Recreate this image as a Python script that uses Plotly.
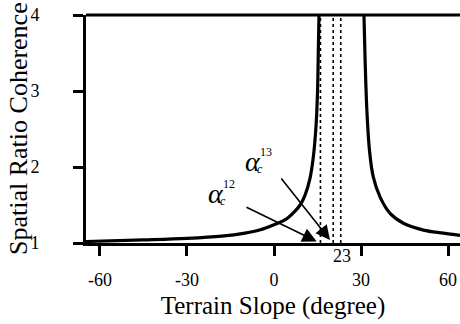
import plotly.graph_objects as go

# Data
left_x = [-64.8, -45, -30, -18, -10, -5, 0, 4, 7, 9, 10.7, 12.4, 13.6, 14.5, 15.0, 15.3, 15.5]
left_y = [1.02, 1.04, 1.06, 1.09, 1.13, 1.17, 1.24, 1.31, 1.41, 1.50, 1.63, 1.85, 2.15, 2.55, 3.0, 3.6, 4.0]
right_x = [31.0, 31.4, 32.0, 32.9, 34.2, 36.6, 40.0, 44.6, 51.5, 58.4, 64.1]
right_y = [4.0, 3.4, 2.75, 2.22, 1.87, 1.60, 1.39, 1.26, 1.17, 1.13, 1.10]
dotted_x = [16.0, 20.4, 23.0]
x_ticks = [-60, -30, 0, 30, 60]
x_tick_labels = ["-60", "-30", "0", "30", "60"]
y_ticks = [1, 2, 3, 4]
critical_label = "23"
y_title = "Spatial Ratio Coherence"
x_title = "Terrain Slope (degree)"
arrow12 = dict(head=(14.7, 1.02), tail=(-10.0, 1.48), label=(-20.0, 1.65), sup="12")
arrow13 = dict(head=(19.3, 1.04), tail=(2.1, 1.87), label=(-7.2, 2.07), sup="13")

FONT = "Liberation Serif"

fig = go.Figure()
for xs, ys in [(left_x, left_y), (right_x, right_y)]:
    fig.add_trace(go.Scatter(x=xs, y=ys, mode="lines", line=dict(color="black", width=3.2, shape="spline"),
                             showlegend=False, hoverinfo="skip"))
for dx in dotted_x:
    fig.add_trace(go.Scatter(x=[dx, dx], y=[1, 4], mode="lines", line=dict(color="black", width=1.6, dash="dot"),
                             showlegend=False, hoverinfo="skip"))

# top border line at y=4
fig.add_shape(type="line", xref="paper", yref="paper", x0=0, x1=1, y0=1, y1=1,
              line=dict(color="black", width=3))

annotations = []
for a in (arrow12, arrow13):
    annotations.append(dict(x=a["head"][0], y=a["head"][1], ax=a["tail"][0], ay=a["tail"][1],
                            xref="x", yref="y", axref="x", ayref="y", text="", showarrow=True,
                            arrowhead=2, arrowsize=1.8, arrowwidth=1.6, arrowcolor="black"))
    lx, ly = a["label"]
    annotations.append(dict(x=lx, y=ly, xref="x", yref="y", text="<i>α</i>", showarrow=False,
                            font=dict(family=FONT, size=28, color="black")))
    annotations.append(dict(x=lx, y=ly, xref="x", yref="y", text=a["sup"], showarrow=False,
                            xshift=13, yshift=10, font=dict(family=FONT, size=12, color="black")))
    annotations.append(dict(x=lx, y=ly, xref="x", yref="y", text="<i>c</i>", showarrow=False,
                            xshift=7, yshift=-7, font=dict(family=FONT, size=12, color="black")))

annotations.append(dict(x=23.4, y=0, xref="x", yref="paper", yanchor="top", text=critical_label,
                        showarrow=False, yshift=-1, font=dict(family=FONT, size=18, color="black")))
# y-axis title
annotations.append(dict(x=0, y=0.5, xref="paper", yref="paper", xanchor="center", yanchor="middle",
                        xshift=-68, textangle=-90, text=y_title, showarrow=False,
                        font=dict(family=FONT, size=26, color="black")))

fig.update_layout(
    width=460, height=324,
    margin=dict(l=86, r=0, t=15, b=81),
    plot_bgcolor="white", paper_bgcolor="white",
    font=dict(family=FONT, size=18, color="black"),
    annotations=annotations,
    xaxis=dict(range=[-64.8, 64.1], tickvals=x_ticks, ticktext=x_tick_labels, ticks="outside",
               ticklen=10, tickwidth=2.5, automargin=False,
               tickcolor="black", showline=True, linewidth=3, linecolor="black", showgrid=False,
               zeroline=False, ticklabelstandoff=8,
               title=dict(text=x_title, font=dict(family=FONT, size=25), standoff=8)),
    yaxis=dict(range=[1, 4], tickvals=y_ticks, ticks="outside", ticklen=10, tickwidth=2.5,
               tickcolor="black", showline=True, linewidth=3, linecolor="black", showgrid=False,
               zeroline=False, ticklabelstandoff=30, automargin=False),
)

fig.write_html("out.html", config={"displayModeBar": False},
               post_script="document.body.style.margin='0';")
